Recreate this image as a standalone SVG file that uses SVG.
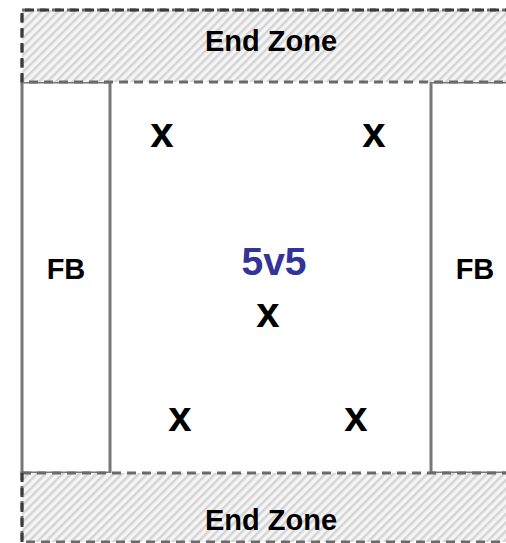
<svg xmlns="http://www.w3.org/2000/svg" width="506" height="543" viewBox="0 0 506 543">
<defs>
<pattern id="hatch" patternUnits="userSpaceOnUse" width="6" height="6" patternTransform="rotate(45)">
<rect width="6" height="6" fill="#f5f5f5"/>
<rect x="0" y="0" width="2.5" height="6" fill="#d4d4d4"/>
</pattern>
<style>
.ez{fill:url(#hatch);stroke:#6a6a6a;stroke-width:3;stroke-dasharray:9 6}
.edge{fill:none;stroke:#3a3a3a;stroke-width:3;stroke-dasharray:9 6}
.side{fill:#fff;stroke:#777;stroke-width:3}
.lbl{font-family:"Liberation Sans",Arial,sans-serif;font-weight:bold;fill:#000;text-anchor:middle}
.big{font-size:29px}
.x{font-size:42px}
.title{font-family:"Liberation Sans",Arial,sans-serif;font-weight:bold;font-size:39px;fill:#333399;text-anchor:middle}
</style>
</defs>
<rect width="506" height="543" fill="#fff"/>
<g id="field">
<rect x="22" y="82" width="497" height="391" fill="#fff"/>
</g>
<g id="fb-left">
<rect class="side" x="22" y="82" width="88" height="391"/>
<text class="lbl big" x="66" y="279">FB</text>
</g>
<g id="fb-right">
<rect class="side" x="431" y="82" width="88" height="391"/>
<text class="lbl big" x="475" y="279">FB</text>
</g>
<g id="endzone-top">
<rect class="ez" x="22" y="10" width="497" height="72"/>
<path class="edge" d="M22 82 V10 H519"/>
<text class="lbl big" x="271" y="51">End Zone</text>
</g>
<g id="endzone-bottom">
<rect class="ez" x="22" y="473" width="497" height="69"/>
<path class="edge" d="M22 473 V542"/>
<text class="lbl big" x="271" y="530">End Zone</text>
</g>
<g id="title">
<text class="title" x="274" y="275">5v5</text>
</g>
<g id="players">
<text class="lbl x" x="162" y="147">x</text>
<text class="lbl x" x="374" y="147">x</text>
<text class="lbl x" x="268" y="327">x</text>
<text class="lbl x" x="180" y="431">x</text>
<text class="lbl x" x="356" y="431">x</text>
</g>
<g id="connectors"></g>
</svg>
